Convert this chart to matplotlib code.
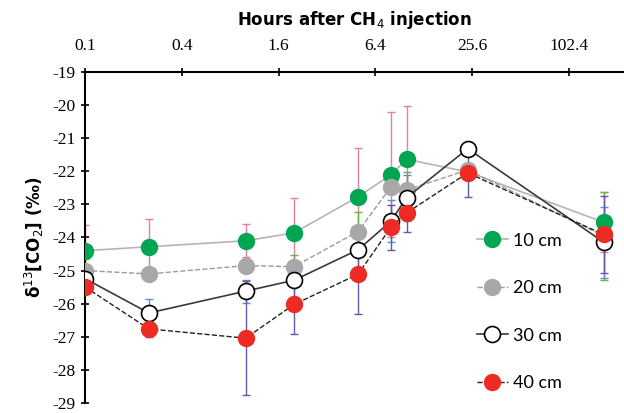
import numpy as np
import matplotlib
matplotlib.use('Agg')
import matplotlib.pyplot as plt

plt.rcParams['axes.unicode_minus'] = False

# hours after CH4 injection
hours = [0.1, 0.25, 1, 2, 5, 8, 10, 24, 168]

d10 = [-24.40, -24.28, -24.10, -23.86, -22.77, -22.11, -21.64, -22.02, -23.54]
d20 = [-25.00, -25.10, -24.85, -24.88, -23.82, -22.47, -22.57, -21.96, -23.95]
d30 = [-25.24, -26.28, -25.62, -25.29, -24.37, -23.51, -22.80, -21.32, -24.14]
d40 = [-25.49, -26.76, -27.04, -26.02, -25.11, -23.69, -23.26, -22.05, -23.91]

e10 = [0.77, 0.83, 0.50, 1.04, 1.48, 1.89, 1.62, 0.15, 0.90]
e20 = [0.35, 0.15, 0.20, 0.35, 0.60, 0.15, 0.54, 0.15, 1.32]
e30 = [0.40, 0.41, 0.35, 0.50, 0.55, 0.64, 0.70, 0.20, 1.07]
e40 = [0.15, 0.24, 1.73, 0.88, 1.20, 0.68, 0.58, 0.74, 1.15]

tick_vals = [0.1, 0.4, 1.6, 6.4, 25.6, 102.4]
tick_labels = ['0.1', '0.4', '1.6', '6.4', '25.6', '102.4']

fig = plt.figure(figsize=(6.24, 4.13), dpi=100)
ax = fig.add_axes([0.136, 0.024, 0.864, 0.802])

series = [
    ('10 cm', d10, e10, dict(color='#b5b5b5', ls='-', lw=1.2, marker='o', mfc='#00a651', mec='#00a651'), '#e27fa6'),
    ('20 cm', d20, e20, dict(color='#9a9a9a', ls='--', lw=1.0, marker='o', mfc='#a8a8a8', mec='#a8a8a8'), '#72b043'),
    ('30 cm', d30, e30, dict(color='#3a3a3a', ls='-', lw=1.2, marker='o', mfc='white', mec='black', mew=1.2), '#5b8fd8'),
    ('40 cm', d40, e40, dict(color='#222222', ls='--', lw=1.0, marker='o', mfc='#ee2a25', mec='#ee2a25'), '#6a56a8'),
]

for label, y, err, style, ecol in series:
    ax.errorbar(hours, y, yerr=err, fmt='none', ecolor=ecol, elinewidth=1.0, capsize=3, capthick=1.0, zorder=2)
for label, y, err, style, ecol in series:
    ax.plot(hours, y, ms=11.5, label=label, zorder=3, **style)

ax.set_xscale('log', base=2)
ax.set_xlim(0.1, 225)
ax.set_ylim(-29, -19)
ax.xaxis.tick_top()
ax.xaxis.set_label_position('top')
ax.set_xticks(tick_vals)
ax.set_xticklabels(tick_labels)
ax.xaxis.set_minor_locator(matplotlib.ticker.NullLocator())
ax.set_yticks(np.arange(-29, -18, 1))

for lab in ax.get_xticklabels() + ax.get_yticklabels():
    lab.set_fontfamily('Liberation Serif')
    lab.set_fontsize(12.5)

ax.tick_params(axis='both', direction='inout', length=6, width=1.2)
ax.tick_params(axis='x', pad=10)
ax.tick_params(axis='y', pad=4)
ax.spines['right'].set_visible(False)
ax.spines['bottom'].set_visible(False)
ax.spines['left'].set_linewidth(1.5)
ax.spines['top'].set_linewidth(1.5)

ax.set_xlabel('Hours after CH$_4$ injection', fontsize=12, fontweight='bold', labelpad=9)
ax.set_ylabel(r'$\mathbf{\delta}^{13}$[CO$_2$] (‰)', fontsize=12, fontweight='bold', labelpad=4)

ax.legend(loc='center left', bbox_to_anchor=(0.714, 0.275), frameon=False,
          prop={'family': 'Lato', 'size': 13},
          handlelength=1.7, labelspacing=1.75, handletextpad=0.3, borderaxespad=0)

fig.savefig('out.png', dpi=100)
